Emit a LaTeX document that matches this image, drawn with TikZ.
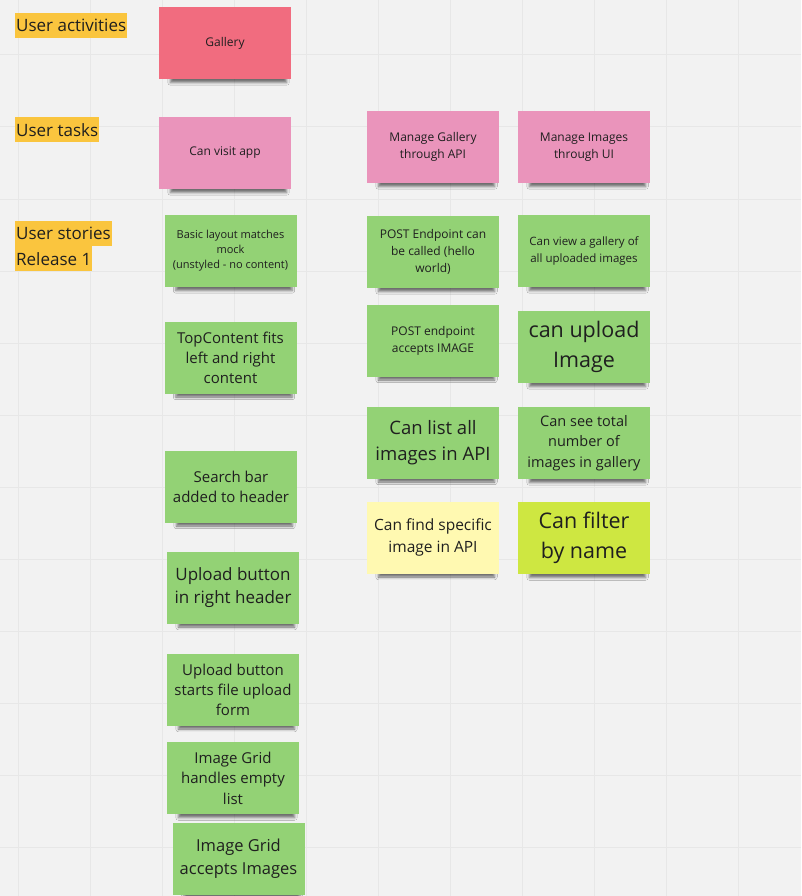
\documentclass[tikz,border=0pt]{standalone}
\usepackage{fontspec}
\setmainfont{Open Sans}
\usetikzlibrary{shadows.blur}

\definecolor{board}{HTML}{F2F2F2}
\definecolor{gridline}{HTML}{E7E7E7}
\definecolor{inktext}{HTML}{1F1F1F}
\definecolor{marker}{HTML}{FAC53E}
\definecolor{notered}{HTML}{F16C7F}
\definecolor{notepink}{HTML}{EA94BB}
\definecolor{notegreen}{HTML}{93D275}
\definecolor{noteyellow}{HTML}{FFF9B1}
\definecolor{notelime}{HTML}{CEE741}

\begin{document}
\begin{tikzpicture}[x=1pt, y=-1pt,
    txt/.style 2 args={font=\fontsize{#1}{#2}\selectfont},
    note/.style={fill=#1, text=inktext, align=center, inner sep=0pt,
      minimum width=132pt, minimum height=72pt,
      blur shadow={shadow xshift=4pt, shadow yshift=-9pt, shadow scale=.88,
        shadow opacity=55, shadow blur radius=3pt}},
    lane/.style={fill=marker, text=inktext, anchor=north west, inner xsep=1pt,
      inner ysep=0pt, minimum height=25pt, txt={17}{24}}]
    \useasboundingbox (0,0) rectangle (801,896);
    \fill[board] (0,0) rectangle (801,896);
    % board grid
    \foreach \gx in {18,90,...,810} \draw[gridline, line width=1pt] (\gx,0) -- (\gx,896);
    \foreach \gy in {55,127,...,900} \draw[gridline, line width=1pt] (0,\gy) -- (801,\gy);

    % lane labels
    \node[lane] (activities) at (15,13) {User activities};
    \node[lane] (tasks) at (15,117) {User tasks};
    \node[lane] (stories) at (15,221) {User stories};
    \node[lane] (release) at (15,246) {Release 1};

    % activities and tasks
    \node[note=notered, txt={12}{17}] (gallery) at (225,43) {Gallery};
    \node[note=notepink, txt={12}{17}] (visit) at (225,153) {Can visit app};
    \node[note=notepink, txt={12}{17}] (apitask) at (433,147) {Manage Gallery\\through API};
    \node[note=notepink, txt={12}{17}] (uitask) at (584,147) {Manage Images\\through UI};

    % stories, first column
    \node[note=notegreen, txt={11}{15}] (layout) at (230.5,251) {Basic layout matches\\mock\\(unstyled - no content)};
    \node[note=notegreen, txt={15}{20}] (topcontent) at (230.5,357.5) {TopContent fits\\left and right\\content};
    \node[note=notegreen, txt={15}{20}] (search) at (231,486.5) {Search bar\\added to header};
    \node[note=notegreen, txt={17}{23}] (uploadbtn) at (233,587.5) {Upload button\\in right header};
    \node[note=notegreen, txt={15}{20}] (uploadform) at (233,689.5) {Upload button\\starts file upload\\form};
    \node[note=notegreen, txt={15}{20.5}] (gridempty) at (233,778) {Image Grid\\handles empty\\list};
    \node[note=notegreen, txt={16.5}{23}] (gridimages) at (238.5,858.5) {Image Grid\\accepts Images};

    % stories, API column
    \node[note=notegreen, txt={12}{17}] (posthello) at (433,252) {POST Endpoint can\\be called (hello\\world)};
    \node[note=notegreen, txt={12}{17}] (postimage) at (433,340.5) {POST endpoint\\accepts IMAGE};
    \node[note=notegreen, txt={18.5}{26}] (listall) at (433,442.5) {Can list all\\images in API};
    \node[note=noteyellow, txt={15.5}{22}] (findone) at (433,537.5) {Can find specific\\image in API};

    % stories, UI column
    \node[note=notegreen, txt={11.5}{17}] (viewall) at (584,251) {Can view a gallery of\\all uploaded images};
    \node[note=notegreen, txt={21.5}{30}] (uploadimg) at (584,347) {can upload\\Image};
    \node[note=notegreen, txt={14.5}{20.5}] (total) at (584,443) {Can see total\\number of\\images in gallery};
    \node[note=notelime, txt={21.5}{30}] (filter) at (584,538) {Can filter\\by name};
\end{tikzpicture}
\end{document}
